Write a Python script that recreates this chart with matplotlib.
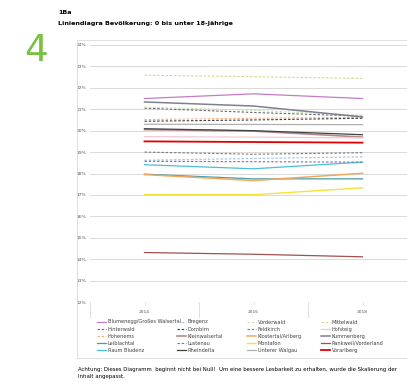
import matplotlib
matplotlib.use("Agg")
import matplotlib.pyplot as plt
from matplotlib.lines import Line2D
from matplotlib.patches import Rectangle
import matplotlib.transforms as mtransforms

years = ["2014", "2016", "2018"]
y_ticks = [12, 13, 14, 15, 16, 17, 18, 19, 20, 21, 22, 23, 24]

blumenegg = [21.50, 21.72, 21.50]
hinterwald = [21.05, 20.85, 20.68]
hohenems = [20.52, 20.58, 20.62]
leiblachtal = [17.97, 17.75, 17.75]
raum_bludenz = [18.41, 18.22, 18.53]
bregenz = [18.62, 18.70, 18.78]
dornbirn = [20.44, 20.50, 20.58]
kleinwalsertal = [20.05, 19.98, 19.70]
lustenau = [18.57, 18.55, 18.53]
rheindelta = [20.09, 20.00, 19.81]
vorderwald = [21.10, 20.95, 20.72]
feldkirch = [19.00, 18.90, 18.97]
klostertal = [17.95, 17.67, 18.01]
montafon = [17.01, 17.01, 17.33]
unterer_walgau = [20.30, 20.29, 20.28]
mittelwald = [22.59, 22.52, 22.44]
hofsteig = [19.72, 19.70, 19.66]
kummenberg = [21.34, 21.15, 20.64]
rankweil = [14.31, 14.23, 14.11]
vorarlberg = [19.50, 19.47, 19.44]

DASH = (0, (2.2, 1.6))
series = [
    # column 1
    ("Blumenegg/Großes Walsertal", blumenegg, "#c47cc4", "-", 0.9),
    ("Hinterwald", hinterwald, "#6a6a6a", DASH, 0.8),
    ("Hohenems", hohenems, "#f4b183", DASH, 0.8),
    ("Leiblachtal", leiblachtal, "#4a9ba6", "-", 0.9),
    ("Raum Bludenz", raum_bludenz, "#4bbfd9", "-", 0.9),
    # column 2
    ("Bregenz", bregenz, "#9dc3e6", DASH, 0.8),
    ("Dornbirn", dornbirn, "#404040", DASH, 0.8),
    ("Kleinwalsertal", kleinwalsertal, "#b58a8a", "-", 1.2),
    ("Lustenau", lustenau, "#7f6fa3", DASH, 0.8),
    ("Rheindelta", rheindelta, "#404040", "-", 0.9),
    # column 3
    ("Vorderwald", vorderwald, "#c5e0b4", DASH, 0.8),
    ("Feldkirch", feldkirch, "#7a7a7a", DASH, 0.8),
    ("Klostertal/Arlberg", klostertal, "#f0a860", "-", 1.1),
    ("Montafon", montafon, "#f2e43a", "-", 1.0),
    ("Unterer Walgau", unterer_walgau, "#b0b0b0", "-", 0.9),
    # column 4
    ("Mittelwald", mittelwald, "#d6d68a", DASH, 0.8),
    ("Hofsteig", hofsteig, "#f4c7d7", "-", 0.9),
    ("Kummenberg", kummenberg, "#80808f", "-", 1.1),
    ("Rankweil/Vorderland", rankweil, "#a0504d", "-", 0.9),
    ("Vorarlberg", vorarlberg, "#e00000", "-", 1.3),
]

W, H = 407, 385
fig = plt.figure(figsize=(W / 100, H / 100), dpi=100)
fig.patch.set_facecolor("white")

def fx(px):
    return px / W

def fy(py):
    return 1 - py / H

# outer chart box
fig.add_artist(Rectangle((fx(77), fy(358)), fx(420) - fx(77), fy(40) - fy(358),
                         transform=fig.transFigure, fill=False,
                         edgecolor="#d9d9d9", linewidth=0.6))

left, right, top, bottom = 90, 417, 45, 302
ax = fig.add_axes([fx(left), fy(bottom), fx(right) - fx(left), fy(top) - fy(bottom)])
ax.set_facecolor("none")
x = list(range(len(years)))
handles = []
for name, vals, color, ls, lw in series:
    (ln,) = ax.plot(x, vals, color=color, linestyle=ls, linewidth=lw, label=name)
    handles.append(ln)

ax.set_xlim(-0.5, 2.5)
ax.set_ylim(12, 24)
ax.set_yticks(y_ticks)
ax.set_yticklabels([f"{t}%" for t in y_ticks], fontsize=3.2, color="#595959")
ax.yaxis.grid(True, color="#d9d9d9", linewidth=0.7)
ax.set_axisbelow(True)
ax.tick_params(axis="y", length=0, pad=3)
ax.set_xticks(x)
ax.set_xticklabels(years, fontsize=3.2, color="#595959")
ax.tick_params(axis="x", length=1.5, width=0.4, color="#bfbfbf", pad=4)
for s in ax.spines.values():
    s.set_visible(False)

# category separators below the axis
trans = mtransforms.blended_transform_factory(ax.transData, ax.transAxes)
depth = (317 - 302) / (bottom - top)
for xb in [-0.5, 0.5, 1.5, 2.5]:
    ax.add_line(Line2D([xb, xb], [0, -depth], transform=trans, color="#d9d9d9",
                       linewidth=0.6, clip_on=False))

# legend in four fixed columns
col_x = [97, 177, 247, 321]
for c in range(4):
    hs = handles[c * 5:(c + 1) * 5]
    leg = fig.legend(handles=hs, labels=[h.get_label() for h in hs],
                     loc="upper left", bbox_to_anchor=(fx(col_x[c]), fy(319.5)),
                     frameon=False, fontsize=3.6, handlelength=1.8,
                     handletextpad=0.4, labelspacing=0.42, borderpad=0,
                     borderaxespad=0)
    for t in leg.get_texts():
        t.set_color("#404040")

# titles
fig.text(fx(58), fy(12), "1Ba", fontsize=4.6, fontweight="bold", va="center",
         ha="left", color="#000000")
fig.text(fx(58), fy(24), "Liniendiagra Bevölkerung: 0 bis unter 18-Jährige",
         fontsize=4.6, fontweight="bold", va="center", ha="left", color="#000000")
fig.text(fx(24), fy(51), "4", fontsize=27, color="#7ac143", va="center", ha="left")

# footer
fig.text(fx(78), fy(370), "Achtung: Dieses Diagramm  beginnt nicht bei Null!  Um eine bessere Lesbarkeit zu erhalten, wurde die Skalierung der",
         fontsize=3.9, va="center", ha="left", color="#000000")
fig.text(fx(78), fy(376.5), "Inhalt angepasst.", fontsize=3.9, va="center",
         ha="left", color="#000000")

fig.savefig("out.png", dpi=100)
